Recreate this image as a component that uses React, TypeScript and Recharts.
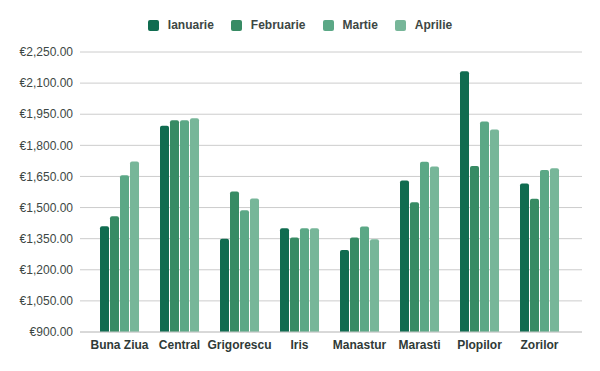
import { BarChart, Bar, XAxis, YAxis, CartesianGrid, Legend } from 'recharts';

// valori
const cartiere = ['Buna Ziua', 'Central', 'Grigorescu', 'Iris', 'Manastur', 'Marasti', 'Plopilor', 'Zorilor'];
const ianuarie = [1410, 1895, 1350, 1400, 1295, 1630, 2157, 1616];
const februarie = [1458, 1921, 1577, 1356, 1356, 1525, 1700, 1543];
const martie = [1656, 1921, 1487, 1400, 1409, 1721, 1915, 1681];
const aprilie = [1722, 1931, 1544, 1400, 1347, 1698, 1876, 1690];
const yTicks = [900, 1050, 1200, 1350, 1500, 1650, 1800, 1950, 2100, 2250];

const serii = [
  { key: 'Ianuarie', values: ianuarie, color: '#106c50' },
  { key: 'Februarie', values: februarie, color: '#378b64' },
  { key: 'Martie', values: martie, color: '#5ba886' },
  { key: 'Aprilie', values: aprilie, color: '#77b699' },
];

const data = cartiere.map((nume, i) => {
  const rand: any = { nume };
  serii.forEach((s) => { rand[s.key] = s.values[i]; });
  return rand;
});

const font = '"Liberation Sans", Arial, sans-serif';

const formatEuro = (v: number) =>
  '€' + v.toLocaleString('en-US', { minimumFractionDigits: 2, maximumFractionDigits: 2 });

// legenda personalizata (patrate rotunjite + text bold)
const Legenda = () => (
  <div style={{ display: 'flex', justifyContent: 'center', alignItems: 'center', height: 26, fontFamily: font }}>
    {serii.map((s, i) => (
      <div key={s.key} style={{ display: 'flex', alignItems: 'center', marginLeft: i === 0 ? 0 : 17 }}>
        <span style={{ width: 11, height: 11, borderRadius: 2, background: s.color, display: 'inline-block' }} />
        <span style={{ marginLeft: 9, fontSize: 12, fontWeight: 'bold', color: '#3d4744' }}>{s.key}</span>
      </div>
    ))}
  </div>
);

export default function App() {
  return (
    <div style={{ position: 'absolute', left: 0, top: 0, width: 600, height: 371, background: '#fff', fontFamily: font }}>
      <BarChart
        width={600}
        height={371}
        data={data}
        margin={{ top: 26, right: 18, bottom: 9, left: 0 }}
        barCategoryGap={10.5}
        barGap={1}
      >
        <CartesianGrid vertical={false} stroke="#cccccc" />
        <XAxis
          dataKey="nume"
          height={30}
          padding={{ left: 9.5, right: 12.5 }}
          axisLine={{ stroke: '#cccccc' }}
          tickLine={false}
          interval={0}
          tick={{ fontSize: 12, fontWeight: 'bold', fill: '#2f3a37', fontFamily: font }}
        />
        <YAxis
          width={80}
          domain={[900, 2250]}
          ticks={yTicks}
          axisLine={false}
          tickLine={false}
          tickMargin={1}
          tickFormatter={formatEuro}
          tick={{ fontSize: 12, fill: '#3d4744', fontFamily: font }}
        />
        <Legend verticalAlign="top" content={<Legenda />} wrapperStyle={{ top: 12, left: 0, width: 600 }} />
        {serii.map((s) => (
          <Bar key={s.key} dataKey={s.key} fill={s.color} radius={[2, 2, 0, 0]} isAnimationActive={false} />
        ))}
      </BarChart>
    </div>
  );
}
